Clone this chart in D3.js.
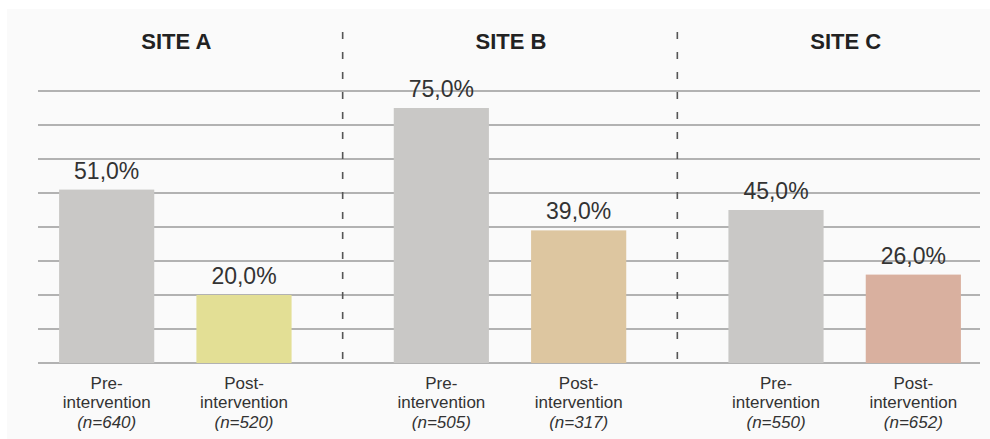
<!DOCTYPE html>
<html>
<head>
<meta charset="utf-8">
<script src="https://cdn.jsdelivr.net/npm/d3@7"></script>
<style>
  html, body { margin: 0; padding: 0; background: #ffffff; }
  svg { display: block; }
  text { font-family: "Liberation Sans", Arial, Helvetica, sans-serif; }
</style>
</head>
<body>
<svg id="chart" width="990" height="439"></svg>
<script>
// ---- data ----
const sites = ["SITE A", "SITE B", "SITE C"];
const phases = ["Pre", "Post"];
const phaseLabels = ["Pre-", "Post-"];
const preValues = [51, 75, 45];
const postValues = [20, 39, 26];
const preN = [640, 505, 550];
const postN = [520, 317, 652];
const preColor = "#c9c8c6";
const postColors = ["#e3df95", "#ddc6a0", "#d9b09f"];
const yTicks = [0, 10, 20, 30, 40, 50, 60, 70, 80];

// ---- layout ----
const svg = d3.select("#chart");
const W = 990, H = 439;

svg.append("rect").attr("x", 7).attr("y", 9).attr("width", W - 7).attr("height", H - 9).attr("fill", "#fafafa");

const x = d3.scaleBand().domain(sites).range([8, 1012]).paddingInner(0).paddingOuter(0);
const xi = d3.scaleBand().domain(phases).range([0, x.bandwidth()]).paddingInner(0.307).paddingOuter(0.372);
const y = d3.scaleLinear().domain([0, 80]).range([363, 91]);

// gridlines
svg.append("g").selectAll("line").data(yTicks).join("line")
  .attr("x1", 38).attr("x2", 980)
  .attr("y1", d => y(d)).attr("y2", d => y(d))
  .attr("stroke", "#9a9a9a").attr("stroke-width", 1.6);

// separators
svg.append("g").selectAll("line").data(sites.slice(1)).join("line")
  .attr("x1", d => x(d)).attr("x2", d => x(d))
  .attr("y1", 32).attr("y2", y(0))
  .attr("stroke", "#555").attr("stroke-width", 1.6)
  .attr("stroke-dasharray", "7,13");

// titles
svg.append("g").selectAll("text").data(sites).join("text")
  .attr("x", d => x(d) + x.bandwidth() / 2 + 1)
  .attr("y", 49)
  .attr("text-anchor", "middle")
  .attr("font-size", 22).attr("font-weight", "bold").attr("fill", "#222")
  .text(d => d);

// bar data
const bars = [];
sites.forEach((s, i) => {
  bars.push({ site: s, phase: "Pre", value: preValues[i], n: preN[i], color: preColor, label: phaseLabels[0] });
  bars.push({ site: s, phase: "Post", value: postValues[i], n: postN[i], color: postColors[i], label: phaseLabels[1] });
});

const fmt = v => d3.format(".1f")(v).replace(".", ",") + "%";

svg.append("g").selectAll("rect").data(bars).join("rect")
  .attr("x", d => x(d.site) + xi(d.phase))
  .attr("width", xi.bandwidth())
  .attr("y", d => y(d.value))
  .attr("height", d => y(0) - y(d.value))
  .attr("fill", d => d.color);

// value labels
svg.append("g").selectAll("text").data(bars).join("text")
  .attr("x", d => x(d.site) + xi(d.phase) + xi.bandwidth() / 2)
  .attr("y", d => y(d.value) - 11)
  .attr("text-anchor", "middle")
  .attr("font-size", 23).attr("fill", "#333")
  .text(d => fmt(d.value));

// category labels
const cat = svg.append("g").selectAll("g").data(bars).join("g")
  .attr("transform", d => `translate(${x(d.site) + xi(d.phase) + xi.bandwidth() / 2},0)`);
cat.append("text").attr("y", 389).attr("text-anchor", "middle")
  .attr("font-size", 17).attr("fill", "#333").text(d => d.label);
cat.append("text").attr("y", 408).attr("text-anchor", "middle")
  .attr("font-size", 17).attr("fill", "#333").text("intervention");
cat.append("text").attr("y", 428).attr("text-anchor", "middle")
  .attr("font-size", 17).attr("fill", "#333").attr("font-style", "italic")
  .text(d => `(n=${d.n})`);
</script>
</body>
</html>
